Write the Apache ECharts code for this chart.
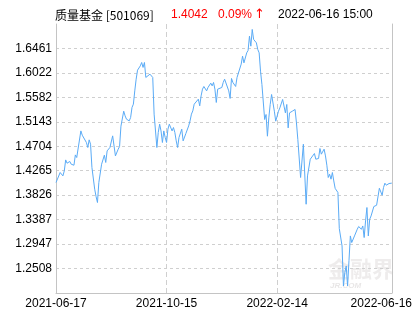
<!DOCTYPE html>
<html>
<head>
<meta charset="utf-8">
<script src="https://cdn.jsdelivr.net/npm/echarts@6/dist/echarts.min.js"></script>
<style>html,body{margin:0;padding:0;background:#fff;}#c{width:415px;height:330px;}</style>
</head>
<body>
<div id="c"></div>
<script>
// trading-day index (from 2021-06-17) and unit NAV
const dayIndex = [0,3,5,6,7,8,10,11,13,14,15,16,18,19,22,23,24,25,26,28,29,30,31,33,34,35,36,37,39,41,42,43,45,46,47,49,50,51,53,54,55,56,57,58,59,60,61,62,63,64,65,66,68,69,70,71,72,73,74,75,76,77,78,79,80,81,82,83,84,85,86,87,88,89,91,92,93,94,95,96,97,98,99,100,101,103,104,105,106,107,108,109,110,112,113,114,115,116,117,118,120,121,122,123,125,126,127,128,130,131,132,134,135,136,138,139,140,141,142,143,144,145,146,147,148,149,150,151,152,153,154,155,156,157,158,159,161,162,163,164,165,166,167,168,169,170,171,173,174,175,177,179,181,182,184,185,187,188,189,190,191,192,194,195,196,197,198,199,200,201,202,203,204,205,206,207,208,209,210,211,212,213,214,215,216,217,218,219,220,221,222,223,224,225,226,227,228,229,230,231,232,233,234,235,236,237,238,239,240,241,242,243];
const nav = [1.4053,1.4233,1.4172,1.4262,1.4459,1.4400,1.4431,1.4382,1.4364,1.4549,1.4502,1.4531,1.4980,1.4903,1.4772,1.4682,1.4819,1.4741,1.4323,1.3933,1.3802,1.3694,1.4053,1.4382,1.4352,1.4544,1.4413,1.4621,1.4682,1.4891,1.4903,1.4531,1.4652,1.4700,1.5065,1.5334,1.5250,1.5191,1.5160,1.5221,1.5401,1.5460,1.5699,1.5909,1.6071,1.6089,1.6148,1.6209,1.6120,1.6209,1.5940,1.5927,1.5999,1.6030,1.5940,1.5281,1.5250,1.4682,1.4952,1.5101,1.4980,1.4772,1.4980,1.4862,1.4772,1.5011,1.5101,1.5131,1.4980,1.5041,1.4952,1.4801,1.4682,1.4862,1.5011,1.4801,1.4772,1.4935,1.4921,1.5070,1.5160,1.5281,1.5340,1.5460,1.5491,1.5550,1.5430,1.5609,1.5730,1.5778,1.5778,1.5699,1.5760,1.5838,1.5789,1.5850,1.5730,1.5491,1.5730,1.5730,1.5760,1.5850,1.5909,1.5879,1.5699,1.5563,1.5922,1.5850,1.5778,1.5940,1.5922,1.6179,1.6323,1.6202,1.6382,1.6425,1.6682,1.6502,1.6802,1.6623,1.6651,1.6562,1.6443,1.6382,1.6053,1.5814,1.5784,1.5185,1.5275,1.4885,1.5214,1.5455,1.5634,1.5663,1.5334,1.5155,1.5334,1.5394,1.5365,1.5545,1.5573,1.5304,1.5455,1.5034,1.5304,1.5275,1.5334,1.5365,1.5124,1.4826,1.4143,1.4741,1.3663,1.4172,1.4472,1.4441,1.4574,1.4472,1.4441,1.4485,1.4664,1.4562,1.4652,1.4531,1.4364,1.4143,1.4202,1.4113,1.4233,1.4082,1.3948,1.3963,1.3874,1.3227,1.3214,1.2914,1.2195,1.2436,1.2555,1.2195,1.2650,1.3094,1.2975,1.3004,1.3094,1.3124,1.3214,1.3263,1.3240,1.3214,1.3273,1.3065,1.3363,1.3604,1.3094,1.3394,1.3453,1.3453,1.3622,1.3633,1.3645,1.3663,1.3950,1.3933,1.3825,1.3963,1.4041,1.4005,1.4023,1.4035,1.4064,1.4042];
const tickIndex = [0, 80, 160, 243];
const tickLabels = ['2021-06-17', '2021-10-15', '2022-02-14', '2022-06-16'];
const yMin = 1.206905, yMax = 1.689992, yStep = 0.043917;
const fundName = '质量基金 [501069]';
const lastNav = '1.4042';
const change = '0.09%';
const arrow = '↑';
const stamp = '2022-06-16 15:00';

const chart = echarts.init(document.getElementById('c'), null, {renderer: 'canvas'});
const font = '"Liberation Sans", Arial, sans-serif';
const cjk = '"Noto Sans CJK SC", "Liberation Sans", sans-serif';
const data = dayIndex.map((d, i) => [d, nav[i]]);
chart.setOption({
  animation: false,
  backgroundColor: '#fff',
  grid: {left: 56, right: 23, top: 24, bottom: 37},
  graphic: [
    {type: 'text', left: 55, top: 9, style: {text: fundName, font: '12px ' + cjk, fill: '#000'}},
    {type: 'text', left: 171, top: 9, style: {text: lastNav, font: '12px ' + font, fill: '#ff0000'}},
    {type: 'text', left: 218, top: 9, style: {text: change, font: '12px ' + font, fill: '#ff0000'}},
    {type: 'text', left: 254, top: 8, style: {text: arrow, font: '13px "DejaVu Sans", sans-serif', fill: '#ff0000'}},
    {type: 'text', left: 278, top: 9, style: {text: stamp, font: '12px ' + font, fill: '#000'}},
    {type: 'text', left: 328, top: 258, z: -1, style: {text: '金融界', font: 'bold 22px ' + cjk, fill: 'rgba(205,200,200,0.35)'}},
    {type: 'text', left: 330, top: 282, z: -1, style: {text: 'JR.COM', font: 'italic bold 8px ' + font, fill: 'rgba(205,200,200,0.45)'}}
  ],
  xAxis: {
    type: 'value', min: 0, max: 243,
    axisLine: {show: true, lineStyle: {color: '#c4c4c4', width: 1}},
    axisTick: {show: false, customValues: tickIndex},
    axisLabel: {
      customValues: tickIndex,
      margin: 5,
      color: '#000', fontSize: 12, fontFamily: font,
      formatter: function (v) {
        const i = tickIndex.indexOf(v);
        if (i < 0) return '';
        if (i === tickIndex.length - 1) return '{last|' + tickLabels[i] + '}';
        return tickLabels[i];
      },
      rich: {last: {color: '#000', fontSize: 12, fontFamily: font, padding: [0, 21, 0, 0]}}
    },
    splitLine: {show: true, lineStyle: {color: '#cfcfcf', type: [5, 3], width: 1}}
  },
  yAxis: [{
    type: 'value', min: yMin, max: yMax, interval: yStep,
    axisLine: {show: true, lineStyle: {color: '#c4c4c4', width: 1}},
    axisTick: {show: false},
    axisLabel: {
      showMinLabel: false, showMaxLabel: false, margin: 4,
      color: '#000', fontSize: 12, fontFamily: font,
      formatter: v => v.toFixed(4)
    },
    splitLine: {show: true, showMaxLine: false, lineStyle: {color: '#cfcfcf', type: [3, 3], width: 1}}
  }, {
    type: 'value', position: 'right', min: 0, max: 1,
    axisLine: {show: true, lineStyle: {color: '#c4c4c4', width: 1}},
    axisTick: {show: false}, axisLabel: {show: false}, splitLine: {show: false}
  }],
  series: [{
    type: 'line', data: data, yAxisIndex: 0, showSymbol: false, symbol: 'none',
    lineStyle: {color: '#5aabf6', width: 1}
  }]
});
</script>
</body>
</html>
